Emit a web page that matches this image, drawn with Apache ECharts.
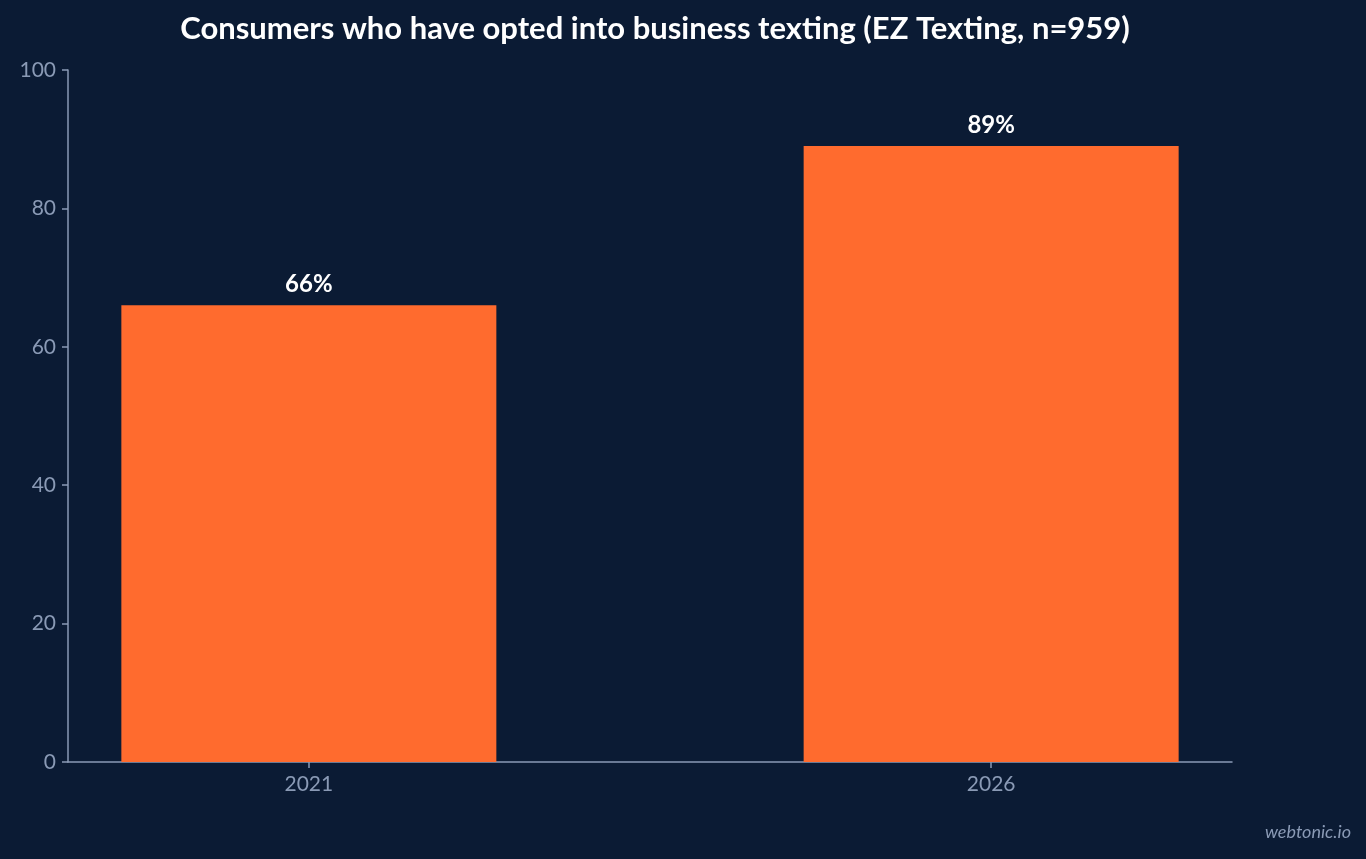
<!DOCTYPE html>
<html>
<head>
<meta charset="utf-8">
<script src="https://cdn.jsdelivr.net/npm/echarts@6/dist/echarts.min.js"></script>
<style>
html,body{margin:0;padding:0;background:#0b1b34;}
#c{width:1366px;height:859px;}
</style>
</head>
<body>
<div id="c"></div>
<script>
const years = [2021, 2026];
const values = [66, 89];
const yTicks = [0, 20, 40, 60, 80, 100];
const titleText = 'Consumers who have opted into business texting (EZ Texting, n=959)';
const sourceText = 'webtonic.io';

const axisColor = '#8a9ab5';
const chart = echarts.init(document.getElementById('c'));
chart.setOption({
  backgroundColor: '#0b1b34',
  animation: false,
  title: {
    text: titleText,
    left: 650, top: 8, textAlign: 'center',
    textStyle: {color: '#ffffff', fontFamily: 'Lato', fontWeight: 'bold', fontSize: 31}
  },
  graphic: [{
    type: 'text', right: 15, top: 823,
    style: {text: sourceText, fill: '#8a9ab5', font: 'italic 18px Lato'}
  }],
  grid: {left: 68, right: 134, top: 70, bottom: 97, containLabel: false},
  xAxis: {
    type: 'value', min: 2019.235, max: 2027.765,
    axisLine: {show: true, lineStyle: {color: axisColor, width: 1.5}},
    axisTick: {show: true, customValues: years, length: 6, lineStyle: {color: axisColor, width: 1.5}},
    axisLabel: {customValues: years, color: axisColor, fontFamily: 'Lato', fontSize: 21, margin: 12,
      formatter: v => String(v)},
    splitLine: {show: false}
  },
  yAxis: {
    type: 'value', min: 0, max: 100, interval: 20,
    axisLine: {show: true, lineStyle: {color: axisColor, width: 1.5}},
    axisTick: {show: true, length: 6, lineStyle: {color: axisColor, width: 1.5}},
    axisLabel: {color: axisColor, fontFamily: 'Lato', fontSize: 21, margin: 12},
    splitLine: {show: false}
  },
  series: [{
    type: 'bar',
    data: years.map((y, i) => [y, values[i]]),
    barWidth: 375,
    itemStyle: {color: '#ff6b2e'},
    label: {show: true, position: 'top', distance: 9, color: '#ffffff', fontFamily: 'Lato',
      fontWeight: 'bold', fontSize: 24, formatter: p => p.value[1] + '%'}
  }]
});
</script>
</body>
</html>
